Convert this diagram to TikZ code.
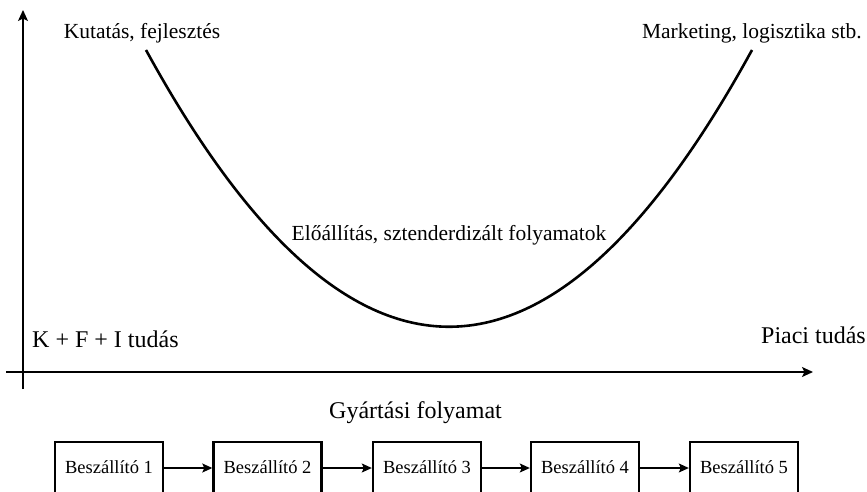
\documentclass[tikz,border=0pt]{standalone}
\usepackage{fontspec}
\setmainfont{Liberation Serif}
\usetikzlibrary{arrows.meta}
\begin{document}
\begin{tikzpicture}[x=1pt,y=-1pt,
  axis/.style={line width=1.4pt,-{Stealth[length=11pt,width=10pt,inset=2.5pt]}},
  curve/.style={line width=2.6pt},
  lbl/.style={inner sep=0pt,anchor=base,font=\fontsize{21.5}{24}\selectfont},
  biglbl/.style={inner sep=0pt,anchor=base,font=\fontsize{24}{28}\selectfont},
  supbox/.style={draw,line width=2.4pt,minimum width=108pt,text height=31pt,text depth=32pt,inner sep=0pt,anchor=base,font=\fontsize{18.5}{22}\selectfont},
  flow/.style={line width=1.2pt,-{Stealth[length=10pt,width=9pt,inset=2pt]}}]
\useasboundingbox (0,0) rectangle (867,492);
\clip (0,0) rectangle (867,492);
% axes
\coordinate (yb) at (23,389);
\coordinate (yt) at (23,10);
\coordinate (xl) at (6,372);
\coordinate (xr) at (813,372);
\draw[axis] (yb) -- (yt);
\draw[axis] (xl) -- (xr);
% curve
\coordinate (cl) at (146,50);
\coordinate (cr) at (752,50);
\draw[curve] (cl) .. controls (348,419) and (550,419) .. (cr);
% labels
\node[lbl] (kf) at (142,39) {Kutatás, fejlesztés};
\node[lbl,anchor=base east] (mk) at (862,39) {Marketing, logisztika stb.};
\node[lbl] (el) at (449,240) {Előállítás, sztenderdizált folyamatok};
\node[biglbl,anchor=base west] (kfi) at (32,347) {K + F + I tudás};
\node[biglbl,anchor=base east] (pt) at (866,343) {Piaci tudás};
\node[biglbl] (gy) at (415.5,418) {Gyártási folyamat};
% supplier chain
\node[supbox] (b1) at (109,473) {Beszállító 1};
\node[supbox] (b2) at (267.5,473) {Beszállító 2};
\node[supbox] (b3) at (427,473) {Beszállító 3};
\node[supbox] (b4) at (585,473) {Beszállító 4};
\node[supbox] (b5) at (744,473) {Beszállító 5};
\draw[flow] (b1.east |- 0,468) -- (b2.west |- 0,468);
\draw[flow] (b2.east |- 0,468) -- (b3.west |- 0,468);
\draw[flow] (b3.east |- 0,468) -- (b4.west |- 0,468);
\draw[flow] (b4.east |- 0,468) -- (b5.west |- 0,468);
\end{tikzpicture}
\end{document}
